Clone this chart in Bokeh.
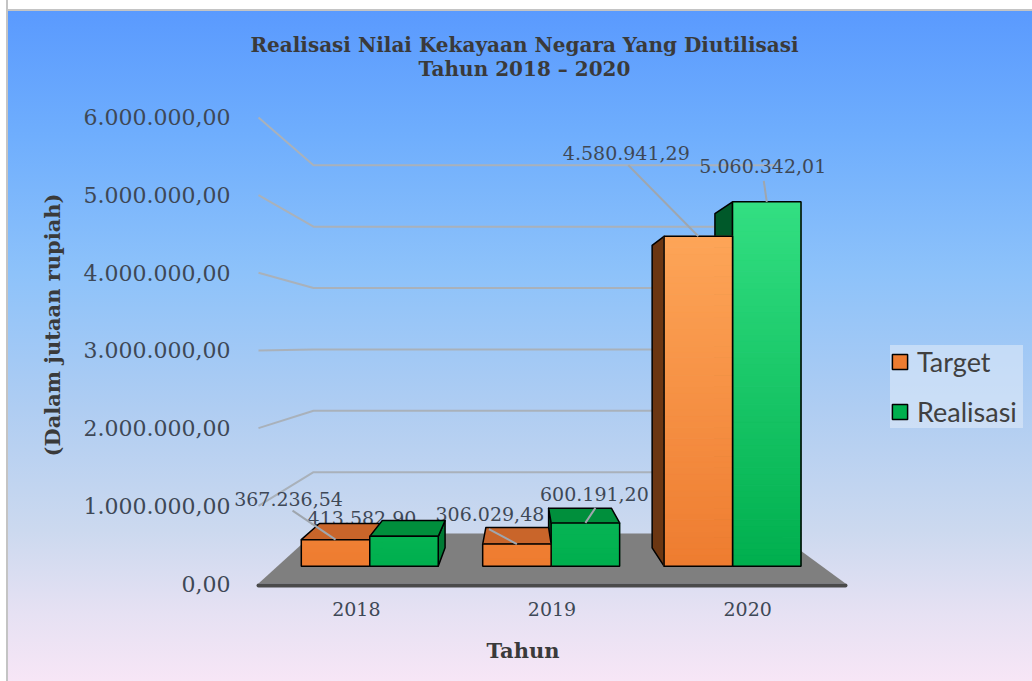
import numpy as np
from bokeh.plotting import figure
from bokeh.models import Range1d, FixedTicker, Legend, LegendItem, Title
from bokeh.embed import file_html
from bokeh.resources import INLINE
from bokeh.core.properties import value

# ---------------- data ----------------
years = ["2018", "2019", "2020"]
target = [367236.54, 306029.48, 4580941.29]
realisasi = [413582.90, 600191.20, 5060342.01]
target_text = ["367.236,54", "306.029,48", "4.580.941,29"]
realisasi_text = ["413.582,90", "600.191,20", "5.060.342,01"]
y_ticks = [0, 1000000, 2000000, 3000000, 4000000, 5000000, 6000000]
y_tick_labels = ["0,00", "1.000.000,00", "2.000.000,00", "3.000.000,00",
                 "4.000.000,00", "5.000.000,00", "6.000.000,00"]
series = ["Target", "Realisasi"]
title_lines = ["Realisasi Nilai Kekayaan Negara Yang Diutilisasi",
               "Tahun 2018 \u2013 2020"]
x_title = "Tahun"
y_title = "(Dalam jutaan rupiah)"

# ---------------- geometry (page pixels) ----------------
W, H = 1032, 681
FRAME_L, FRAME_B, FRAME_T, FRAME_R = 230, 590, 0, 1032
X0 = 258                               # page x of category origin (front plane)
Y0 = 583                               # page y of value 0 (front plane)
PXX = 195.67                           # px per category (front plane)
PXY = 77.67e-6                         # px per rupiah (front plane)
VXP, VYP = 520, 345                    # vanishing point (page px)
S_WALL = 0.79                          # depth factor of back wall
SF, SB = 0.927, 0.85                   # depth factor of bar front / back
GROUP_C = 0.508                        # group centre inside a category
BAR_W = 0.3775                         # bar width (category units)


def dx(px):
    return (px - X0) / PXX


def dy(py):
    return (Y0 - py) / PXY


VXD, VYD = dx(VXP), dy(VYP)


def proj(x, v, s):
    return VXD + s * (x - VXD), VYD + s * (v - VYD)


# ---------------- styles ----------------
SERIF = "DejaVu Serif"
TXT = "#3E4856"
GRID = "#A9B1BA"
front_bottom = ["#EE7C30", "#00AF4E"]
front_top = ["#FFA95C", "#33DF82"]
top_col = ["#C9652A", "#008F3C"]
side_col = ["#6B3612", "#00592A"]
side_col_r = ["#8A4516", "#007A34"]

bg = ("linear-gradient(to right, #ffffff 0px, #ffffff 6px, #C4C4C4 6px, #C4C4C4 8px, "
      "rgba(255,255,255,0) 8px), "
      "linear-gradient(to bottom, #ffffff 0px, #ffffff 9px, #C4C4C4 9px, #C4C4C4 11px, "
      "#5A9AFE 11px, #6FAEFD 20%, #8DC2FA 40%, #AFCDF2 60%, #CCD9EF 78%, "
      "#E6E1F3 90%, #F7E6F6 100%)")

p = figure(width=W, height=H, output_backend="svg", toolbar_location=None,
           x_range=Range1d(dx(FRAME_L), dx(FRAME_R)),
           y_range=Range1d(dy(FRAME_B), dy(FRAME_T)),
           min_border_left=FRAME_L, min_border_right=W - FRAME_R,
           min_border_top=FRAME_T, min_border_bottom=H - FRAME_B,
           background_fill_alpha=0, border_fill_alpha=0,
           outline_line_color=None, styles={"background": bg})
p.xgrid.visible = False
p.ygrid.visible = False

# axes
p.yaxis.ticker = FixedTicker(ticks=y_ticks)
p.yaxis.major_label_overrides = {t: l for t, l in zip(y_ticks, y_tick_labels)}
p.yaxis.axis_line_color = None
p.yaxis.major_tick_line_color = None
p.yaxis.minor_tick_line_color = None
p.yaxis.major_tick_out = 0
p.yaxis.major_tick_in = 0
p.yaxis.major_label_standoff = 0
p.yaxis.major_label_text_font = SERIF
p.yaxis.major_label_text_font_size = "22px"
p.yaxis.major_label_text_color = TXT

cat_pos = [i + 0.5 for i in range(len(years))]
p.xaxis.ticker = FixedTicker(ticks=cat_pos)
p.xaxis.major_label_overrides = {c: y for c, y in zip(cat_pos, years)}
p.xaxis.axis_line_color = None
p.xaxis.major_tick_line_color = None
p.xaxis.minor_tick_line_color = None
p.xaxis.major_tick_out = 0
p.xaxis.major_tick_in = 0
p.xaxis.major_label_standoff = 11
p.xaxis.major_label_text_font = SERIF
p.xaxis.major_label_text_font_size = "19px"
p.xaxis.major_label_text_color = TXT

# axis titles (as side-panel titles, so they can sit off-centre like the reference)
p.add_layout(Title(text=x_title, align="left", offset=486 - FRAME_L, standoff=34,
                   text_font=SERIF, text_font_style="bold", text_font_size="21px",
                   text_color="#3A3A3A"), "below")
p.add_layout(Title(text=y_title, align="left", offset=FRAME_B - 456, standoff=32,
                   text_font=SERIF, text_font_style="bold", text_font_size="21px",
                   text_color="#3A3A3A"), "left")

# chart title
for k, line in enumerate(title_lines):
    p.text(x=[dx(524)], y=[dy(44 + 24 * k)], text=[line], text_font=value(SERIF),
           text_font_style="bold", text_font_size="20px", text_align="center",
           text_baseline="middle", text_color="#3A3A3A")

# perspective gridlines (left wall + back wall)
ncat = len(years)
gx, gy = [], []
for t in y_ticks[1:]:
    a = proj(0, t, 1.0)
    b = proj(0, t, S_WALL)
    c = proj(ncat, t, S_WALL)
    gx.append([a[0], b[0], c[0]])
    gy.append([a[1], b[1], c[1]])
p.multi_line(gx, gy, line_color=GRID, line_width=2)

# floor
fl = [proj(0, 0, 1.0), proj(ncat, 0, 1.0), proj(ncat, 0, S_WALL), proj(0, 0, S_WALL)]
p.patch([q[0] for q in fl], [q[1] for q in fl], fill_color="#7F7F7F", line_color=None)
p.line([fl[0][0], fl[1][0]], [fl[0][1] - 2 / PXY, fl[1][1] - 2 / PXY],
       line_color="#4A4A4A", line_width=4, line_cap="round")

# data labels (drawn before bars, like the reference)
vmax = max(max(target), max(realisasi))
label_off = {  # (series, year index) -> label offset, leader start offset (px)
    (0, 0): ((-47, -41), (-43, -29)),
    (1, 0): ((-42, -18), None),
    (0, 1): ((-27, -30), (-28, -15)),
    (1, 1): ((9, -29), (10, -15)),
    (0, 2): ((-72, -83), (-70, -71)),
    (1, 2): ((-4, -36), (-3, -21)),
}
texts = [target_text, realisasi_text]
vals = [target, realisasi]
leaders_x, leaders_y = [], []
for (j, i), (lo, so) in label_off.items():
    xc = i + GROUP_C - BAR_W + j * BAR_W + BAR_W / 2
    ex, ey = proj(xc, vals[j][i], SF)
    p.text(x=[ex + lo[0] / PXX], y=[ey - lo[1] / PXY], text=[texts[j][i]],
           text_font=value(SERIF), text_font_size="19px", text_align="center",
           text_baseline="middle", text_color=TXT)
    if so is not None:
        leaders_x.append([ex + so[0] / PXX, ex])
        leaders_y.append([ey - so[1] / PXY, ey])


def mix(c0, c1, f):
    a = [int(c0[k:k + 2], 16) for k in (1, 3, 5)]
    b = [int(c1[k:k + 2], 16) for k in (1, 3, 5)]
    return "#%02x%02x%02x" % tuple(int(round(a[k] + (b[k] - a[k]) * f)) for k in range(3))


bars = []
for i in range(ncat):
    for j in range(2):
        x0 = i + GROUP_C - BAR_W + j * BAR_W
        bars.append((x0, x0 + BAR_W, vals[j][i], j))
bars.sort(key=lambda b: -abs((b[0] + b[1]) / 2 - VXD))

for x0, x1, v, j in bars:
    # side face
    side = None
    if x0 > VXD:
        side = [proj(x0, 0, SF), proj(x0, v, SF), proj(x0, v, SB), proj(x0, 0, SB)]
        sc = side_col[j]
    elif x1 < VXD:
        side = [proj(x1, 0, SF), proj(x1, v, SF), proj(x1, v, SB), proj(x1, 0, SB)]
        sc = side_col_r[j]
    if side:
        p.patch([q[0] for q in side], [q[1] for q in side], fill_color=sc,
                line_color="black", line_width=1.5, line_join="round")
    # top face
    if v < VYD:
        tp = [proj(x0, v, SF), proj(x1, v, SF), proj(x1, v, SB), proj(x0, v, SB)]
        p.patch([q[0] for q in tp], [q[1] for q in tp], fill_color=top_col[j],
                line_color="black", line_width=1.5, line_join="round")
    # front face with vertical gradient
    n = max(2, int(v / 80000))
    edges = np.linspace(0, v, n + 1)
    mids = (edges[:-1] + edges[1:]) / 2
    cols = [mix(front_bottom[j], front_top[j], m / vmax) for m in mids]
    l, _ = proj(x0, 0, SF)
    r, _ = proj(x1, 0, SF)
    bots = [proj(x0, e, SF)[1] for e in edges[:-1]]
    tops = [proj(x0, e, SF)[1] for e in edges[1:]]
    p.quad(left=l, right=r, bottom=bots, top=tops, fill_color=cols, line_color=cols,
           line_width=1)
    p.quad(left=[l], right=[r], bottom=[proj(x0, 0, SF)[1]], top=[proj(x0, v, SF)[1]],
           fill_color=None, line_color="black", line_width=1.5)

# leader lines
p.multi_line(leaders_x, leaders_y, line_color="#9FA6AE", line_width=2)

# legend (swatch renderers carry no visible data)
items = []
for j, name in enumerate(series):
    r = p.quad(left=[np.nan], right=[np.nan], top=[np.nan], bottom=[np.nan],
               fill_color=front_bottom[j], line_color="black", line_width=1.5)
    items.append(LegendItem(label=name, renderers=[r]))
legend = Legend(items=items, location=(660, FRAME_B - 428),
                background_fill_color="#DDEAF8", background_fill_alpha=0.6,
                border_line_color=None, label_text_font="Lato",
                label_text_font_size="27px", label_text_color="#404040",
                glyph_width=19, glyph_height=19, label_height=28, spacing=17,
                label_width=106, padding=10, margin=0, label_standoff=8)
p.add_layout(legend)

open("out.html", "w").write(file_html(p, INLINE))
